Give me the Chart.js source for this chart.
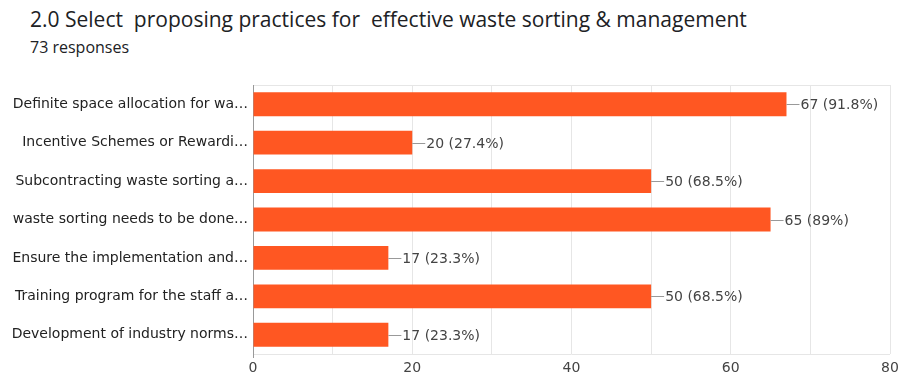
<!DOCTYPE html>
<html>
<head>
<meta charset="utf-8">
<script src="https://cdn.jsdelivr.net/npm/chart.js@4.4.0/dist/chart.umd.min.js"></script>
<style>
  body { margin: 0; background: #fff; width: 902px; height: 381px; overflow: hidden; position: relative; }
  #titulo { position: absolute; left: 30px; top: 5px; font: 21px "Open Sans", sans-serif; color: #202124; white-space: pre; }
  #sub { position: absolute; left: 30px; top: 36px; font: 16px "Open Sans", sans-serif; color: #202124; }
  #caja { position: absolute; left: 0; top: 70px; width: 902px; height: 311px; }
</style>
</head>
<body>
<div id="titulo">2.0 Select  proposing practices for  effective waste sorting &amp; management</div>
<div id="sub">73 responses</div>
<div id="caja"><canvas id="myChart"></canvas></div>
<script>
const categorias = [
  "Definite space allocation for wa…",
  "Incentive Schemes or Rewardi…",
  "Subcontracting waste sorting a…",
  "waste sorting needs to be done…",
  "Ensure the implementation and…",
  "Training program for the staff a…",
  "Development of industry norms…"
];
const respuestas = [67, 20, 50, 65, 17, 50, 17];
const porcentajes = ["91.8%", "27.4%", "68.5%", "89%", "23.3%", "68.5%", "23.3%"];
const ticksX = [0, 20, 40, 60, 80];
const fuente = "'DejaVu Sans', sans-serif";

// marco del area del grafico
const marco = {
  id: "marco",
  beforeDatasetsDraw(chart) {
    const { ctx, chartArea: a } = chart;
    ctx.save();
    ctx.strokeStyle = "#e6e6e6";
    ctx.lineWidth = 1;
    ctx.beginPath();
    ctx.moveTo(a.left, a.top + 0.5);
    ctx.lineTo(a.right, a.top + 0.5);
    ctx.moveTo(a.left, a.bottom + 0.5);
    ctx.lineTo(a.right, a.bottom + 0.5);
    ctx.stroke();
    // linea del cero un poco mas larga
    ctx.strokeStyle = "#999";
    ctx.beginPath();
    ctx.moveTo(a.left + 0.5, a.top);
    ctx.lineTo(a.left + 0.5, a.bottom + 4);
    ctx.stroke();
    ctx.restore();
  }
};

// etiquetas "—67 (91.8%)"
const etiquetas = {
  id: "etiquetas",
  afterDatasetsDraw(chart) {
    const { ctx } = chart;
    const meta = chart.getDatasetMeta(0);
    ctx.save();
    ctx.font = "14px " + fuente;
    ctx.fillStyle = "#444";
    ctx.textBaseline = "middle";
    meta.data.forEach((barra, i) => {
      const x = barra.x;
      const y = Math.round(barra.y) + 0.5;
      ctx.strokeStyle = "#999";
      ctx.lineWidth = 1;
      ctx.beginPath();
      ctx.moveTo(x, y);
      ctx.lineTo(x + 13, y);
      ctx.stroke();
      ctx.fillText(respuestas[i] + " (" + porcentajes[i] + ")", x + 14, y + 1);
    });
    ctx.restore();
  }
};

const config = {
  type: "bar",
  data: {
    labels: categorias,
    datasets: [{
      data: respuestas,
      backgroundColor: "#ff5722",
      barPercentage: 0.62,
      categoryPercentage: 1
    }]
  },
  options: {
    indexAxis: "y",
    responsive: true,
    maintainAspectRatio: false,
    animation: false,
    layout: { padding: { top: 15, right: 12, left: 0, bottom: 0 } },
    plugins: { legend: { display: false }, tooltip: { enabled: false } },
    scales: {
      x: {
        min: 0,
        max: 80,
        afterFit: (s) => {
          s.height = 27;
          s.paddingLeft = 0;
          s.paddingRight = 0;
        },
        afterBuildTicks: (s) => {
          s.ticks = [0, 10, 20, 30, 40, 50, 60, 70, 80].map((v) => ({ value: v }));
        },
        ticks: {
          padding: 6,
          color: "#444",
          font: { family: fuente, size: 14 },
          callback: (v) => (ticksX.includes(v) ? v : "")
        },
        grid: {
          color: (c) => (c.tick && c.tick.value === 0 ? "#999" : "#e6e6e6"),
          drawTicks: false
        },
        border: { display: false }
      },
      y: {
        afterFit: (s) => { s.width = 253; },
        ticks: {
          padding: 5,
          color: "#222",
          font: { family: fuente, size: 14 }
        },
        grid: { display: false, drawTicks: false },
        border: { display: false }
      }
    }
  },
  plugins: [marco, etiquetas]
};

const myChart = new Chart(document.querySelector("#myChart"), config);
</script>
</body>
</html>
